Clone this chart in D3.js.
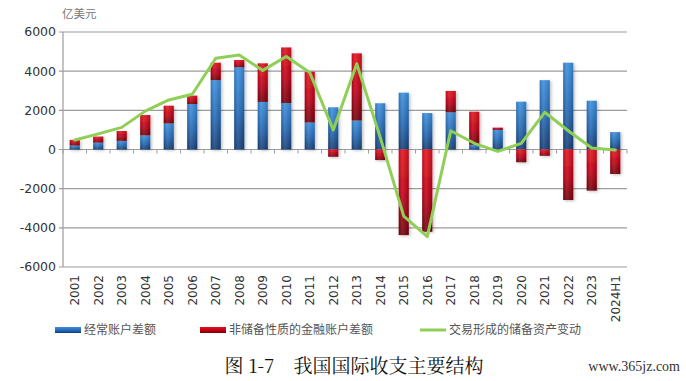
<!DOCTYPE html>
<html>
<head>
<meta charset="utf-8">
<script src="https://cdn.jsdelivr.net/npm/d3@7"></script>
<style>
  html, body { margin: 0; padding: 0; background: #fff; }
  svg { display: block; }
</style>
</head>
<body>
<svg id="chart" width="686" height="381"></svg>
<script>
const years = ["2001","2002","2003","2004","2005","2006","2007","2008","2009","2010","2011","2012",
  "2013","2014","2015","2016","2017","2018","2019","2020","2021","2022","2023","2024H1"];
const currentAccount = [200, 350, 440, 720, 1330, 2320, 3540, 4200, 2430, 2370, 1380, 2155,
  1480, 2360, 2900, 1860, 1900, 240, 1000, 2440, 3540, 4430, 2490, 890];
const financialAccount = [290, 310, 505, 1040, 905, 430, 890, 370, 1970, 2840, 2590, -370,
  3430, -540, -4370, -4200, 1090, 1690, 115, -650, -320, -2580, -2100, -1250];
const reserveChange = [485, 800, 1130, 1960, 2530, 2820, 4660, 4830, 4040, 4750, 3930, 1000,
  4380, 620, -3400, -4450, 960, 317, -100, 317, 1900, 960, 80, -26];
const yTicks = [-6000, -4000, -2000, 0, 2000, 4000, 6000];
const legendLabels = ["经常账户差额", "非储备性质的金融账户差额", "交易形成的储备资产变动"];
const unitLabel = "亿美元";
const titleText = "图 1-7　我国国际收支主要结构";
const watermark = "www.365jz.com";

const svg = d3.select("#chart");
const plotLeft = 63, plotRight = 627, plotTop = 32, plotBottom = 267;

const x = d3.scaleBand().domain(years).range([plotLeft, plotRight]).paddingInner(0.57).paddingOuter(0.285);
const y = d3.scaleLinear().domain([-6000, 6000]).range([plotBottom, plotTop]);

const defs = svg.append("defs");
const gB = defs.append("linearGradient").attr("id", "gBlue").attr("x1", 0).attr("y1", 0).attr("x2", 0).attr("y2", 1);
gB.append("stop").attr("offset", "0%").attr("stop-color", "#3a8fe0");
gB.append("stop").attr("offset", "55%").attr("stop-color", "#2469b4");
gB.append("stop").attr("offset", "100%").attr("stop-color", "#173f78");
const gR = defs.append("linearGradient").attr("id", "gRed").attr("x1", 0).attr("y1", 0).attr("x2", 0).attr("y2", 1);
gR.append("stop").attr("offset", "0%").attr("stop-color", "#e3101c");
gR.append("stop").attr("offset", "55%").attr("stop-color", "#c00015");
gR.append("stop").attr("offset", "100%").attr("stop-color", "#72000c");
const gH = defs.append("linearGradient").attr("id", "gHi").attr("x1", 0).attr("y1", 0).attr("x2", 1).attr("y2", 0);
gH.append("stop").attr("offset", "0%").attr("stop-color", "#000").attr("stop-opacity", 0.18);
gH.append("stop").attr("offset", "35%").attr("stop-color", "#fff").attr("stop-opacity", 0.12);
gH.append("stop").attr("offset", "100%").attr("stop-color", "#000").attr("stop-opacity", 0.15);
const f = defs.append("filter").attr("id", "shadow").attr("x", "-50%").attr("y", "-20%").attr("width", "200%").attr("height", "140%");
f.append("feDropShadow").attr("dx", 1.5).attr("dy", 1).attr("stdDeviation", 1.5).attr("flood-color", "#000").attr("flood-opacity", 0.25);

// gridlines
svg.append("g").selectAll("line").data(yTicks).join("line")
  .attr("x1", plotLeft - 4).attr("x2", plotRight)
  .attr("y1", d => y(d)).attr("y2", d => y(d))
  .attr("stroke", "#9c9c9c").attr("stroke-width", 1.2);
// y axis line
svg.append("line").attr("x1", plotLeft).attr("x2", plotLeft).attr("y1", y(6000)).attr("y2", y(-6000))
  .attr("stroke", "#9c9c9c").attr("stroke-width", 1.2);
// y labels
svg.append("g").selectAll("text").data(yTicks).join("text")
  .attr("x", plotLeft - 7).attr("y", d => y(d)).attr("dy", "0.35em")
  .attr("text-anchor", "end")
  .attr("font-family", "DejaVu Sans, sans-serif").attr("font-size", 12.5).attr("fill", "#333")
  .text(d => d);

// unit label
svg.append("text").attr("x", 62).attr("y", 18)
  .attr("font-family", "Noto Sans CJK SC, sans-serif").attr("font-size", 11.5).attr("fill", "#777")
  .text(unitLabel);

const bw = x.bandwidth();
const data = years.map((yr, i) => ({ yr, ca: currentAccount[i], fa: financialAccount[i], rs: reserveChange[i] }));

const bars = svg.append("g").attr("filter", "url(#shadow)");
bars.selectAll("rect.ca").data(data).join("rect").attr("class", "ca")
  .attr("x", d => x(d.yr)).attr("width", bw)
  .attr("y", d => y(Math.max(0, d.ca))).attr("height", d => Math.abs(y(d.ca) - y(0)))
  .attr("fill", "url(#gBlue)");
bars.selectAll("rect.fa").data(data).join("rect").attr("class", "fa")
  .attr("x", d => x(d.yr)).attr("width", bw)
  .attr("y", d => d.fa >= 0 ? y(d.ca + d.fa) : y(0))
  .attr("height", d => d.fa >= 0 ? y(d.ca) - y(d.ca + d.fa) : y(d.fa) - y(0))
  .attr("fill", "url(#gRed)");
svg.append("g").selectAll("rect").data(data).join("rect")
  .attr("x", d => x(d.yr)).attr("width", bw)
  .attr("y", d => y(Math.max(0, d.ca + Math.max(0, d.fa))))
  .attr("height", d => y(Math.min(0, d.fa)) - y(Math.max(0, d.ca + Math.max(0, d.fa))))
  .attr("fill", "url(#gHi)");

// zero axis ticks at category boundaries
const step = x.step();
const bounds = years.map(d => x(d) + bw / 2 - step / 2).concat([plotRight]);
svg.append("g").selectAll("line").data(bounds).join("line")
  .attr("x1", d => d).attr("x2", d => d)
  .attr("y1", y(0)).attr("y2", y(0) + 4)
  .attr("stroke", "#9c9c9c").attr("stroke-width", 1);

// reserve line
const line = d3.line().x(d => x(d.yr) + bw / 2).y(d => y(d.rs));
svg.append("path").datum(data).attr("d", line)
  .attr("fill", "none").attr("stroke", "#8fcf57").attr("stroke-width", 3)
  .attr("stroke-linejoin", "round").attr("stroke-linecap", "round");

// x labels
svg.append("g").selectAll("text").data(years).join("text")
  .attr("transform", d => `translate(${x(d) + bw / 2 + 4.5},275) rotate(-90)`)
  .attr("text-anchor", "end")
  .attr("font-family", "DejaVu Sans, sans-serif").attr("font-size", 12).attr("fill", "#333")
  .text(d => d);

// legend
const lg = svg.append("g").attr("font-family", "Noto Sans CJK SC, sans-serif").attr("font-size", 12).attr("fill", "#555");
const legendX = [55, 200, 420];
lg.append("rect").attr("x", legendX[0]).attr("y", 327).attr("width", 26).attr("height", 6).attr("fill", "url(#gBlue)");
lg.append("rect").attr("x", legendX[1]).attr("y", 327).attr("width", 26).attr("height", 6).attr("fill", "url(#gRed)");
lg.append("line").attr("x1", legendX[2]).attr("x2", legendX[2] + 26).attr("y1", 330).attr("y2", 330)
  .attr("stroke", "#8fcf57").attr("stroke-width", 3);
legendLabels.forEach((t, i) => {
  lg.append("text").attr("x", legendX[i] + 29).attr("y", 330).attr("dy", "0.35em").text(t);
});

// title
svg.append("text").attr("x", 354).attr("y", 366).attr("dy", "0.35em").attr("text-anchor", "middle")
  .attr("font-family", "Noto Serif CJK SC, Noto Sans CJK SC, serif").attr("font-size", 19).attr("fill", "#111")
  .text(titleText);
svg.append("text").attr("x", 680).attr("y", 366).attr("dy", "0.35em").attr("text-anchor", "end")
  .attr("font-family", "Liberation Serif, DejaVu Serif, serif").attr("font-size", 14).attr("fill", "#333")
  .text(watermark);
</script>
</body>
</html>
